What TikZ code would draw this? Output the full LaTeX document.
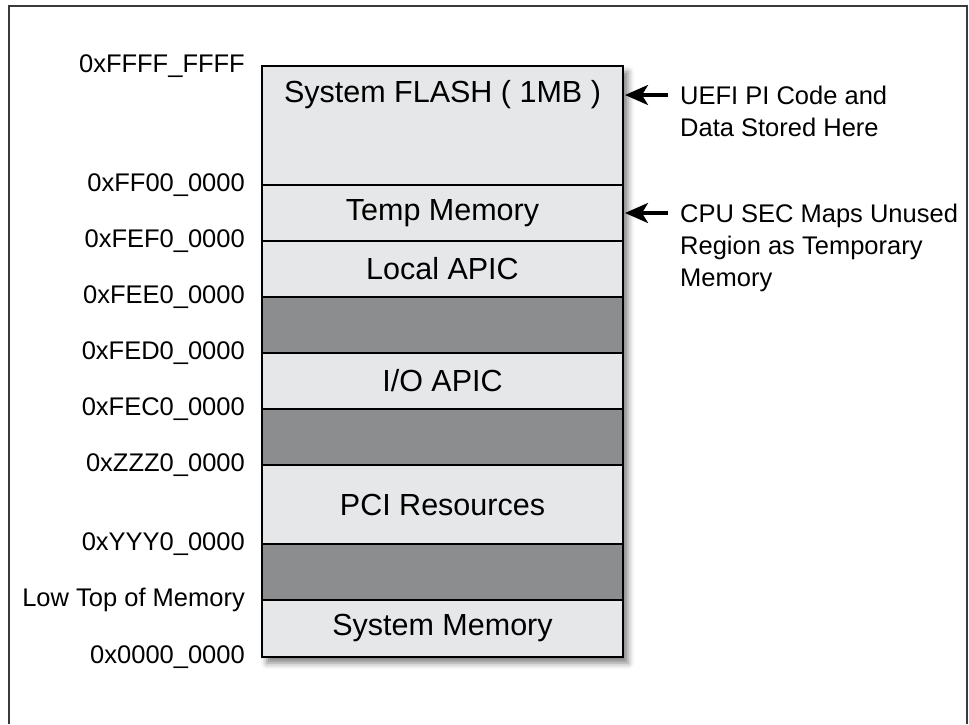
\documentclass[tikz,border=0pt]{standalone}
\usepackage{fontspec}
\setmainfont{Liberation Sans}
\usetikzlibrary{positioning,arrows.meta,shadows.blur,backgrounds}
\definecolor{memlight}{HTML}{E6E7E8}
\definecolor{memdark}{HTML}{8C8D8F}
\definecolor{framegray}{HTML}{3A3A3A}
\tikzset{
  region/.style={draw, line width=2pt, fill=memlight, minimum width=361pt, inner sep=0pt, outer sep=0pt, font=\fontsize{30.5}{36}\selectfont},
  hole/.style={region, fill=memdark},
  addr/.style={font=\fontsize{25.5}{30}\selectfont, inner sep=0pt},
  note/.style={font=\fontsize{25.5}{32}\selectfont, align=left, inner sep=0pt},
  ptr/.style={-{Stealth[length=23pt,width=20pt,inset=6pt]}, line width=3.2pt, shorten >=2pt}
}
\begin{document}
\begin{tikzpicture}[x=1pt,y=-1pt,node distance=0pt]
     \useasboundingbox (0,0) rectangle (969,724);
     \draw[framegray, line width=2pt] (9,724) -- (9,6) -- (967,6) -- (967,724);
     \node[region, minimum height=119pt, anchor=north] (flash) at (442.5,66) {};
     \node[region, minimum height=56pt, below=of flash] (temp) {Temp Memory};
     \node[region, minimum height=56pt, below=of temp] (lapic) {Local APIC};
     \node[hole, minimum height=56pt, below=of lapic] (gap1) {};
     \node[region, minimum height=56pt, below=of gap1] (ioapic) {I/O APIC};
     \node[hole, minimum height=56pt, below=of ioapic] (gap2) {};
     \node[region, minimum height=79pt, below=of gap2] (pci) {PCI Resources};
     \node[hole, minimum height=56pt, below=of pci] (gap3) {};
     \node[region, minimum height=57pt, below=of gap3] (sysmem) {System Memory};
     \node[font=\fontsize{30.5}{36}\selectfont, inner sep=0pt] (flashtxt) at ([yshift=-29pt]flash.north) {System FLASH ( 1MB )};
     \begin{scope}[on background layer]
         \path[blur shadow={shadow xshift=5pt, shadow yshift=-6pt, shadow blur radius=6pt, shadow opacity=50}] (flash.north west) rectangle (sysmem.south east);
     \end{scope}
     \foreach \edge/\txt [count=\i] in {flash.north west/0xFFFF\_FFFF, temp.north west/0xFF00\_0000, lapic.north west/0xFEF0\_0000, gap1.north west/0xFEE0\_0000, ioapic.north west/0xFED0\_0000, gap2.north west/0xFEC0\_0000, pci.north west/0xZZZ0\_0000, gap3.north west/0xYYY0\_0000, sysmem.north west/Low Top of Memory, sysmem.south west/0x0000\_0000} {
         \node[addr, left=17pt of \edge] (addr\i) {\txt};
     }
     \coordinate (uefi) at ([xshift=45pt]flash.east |- flashtxt);
     \coordinate (sec) at ([xshift=45pt]temp.east);
     \draw[ptr] (uefi) -- (flash.east |- flashtxt);
     \draw[ptr] (sec) -- (temp.east);
     \node[note, anchor=north west, yshift=9.5pt] (uefinote) at ([xshift=12pt]uefi) {UEFI PI Code and\\Data Stored Here};
     \node[note, anchor=north west, yshift=9.5pt] (secnote) at ([xshift=12pt]sec) {CPU SEC Maps Unused\\Region as Temporary\\Memory};
\end{tikzpicture}
\end{document}
